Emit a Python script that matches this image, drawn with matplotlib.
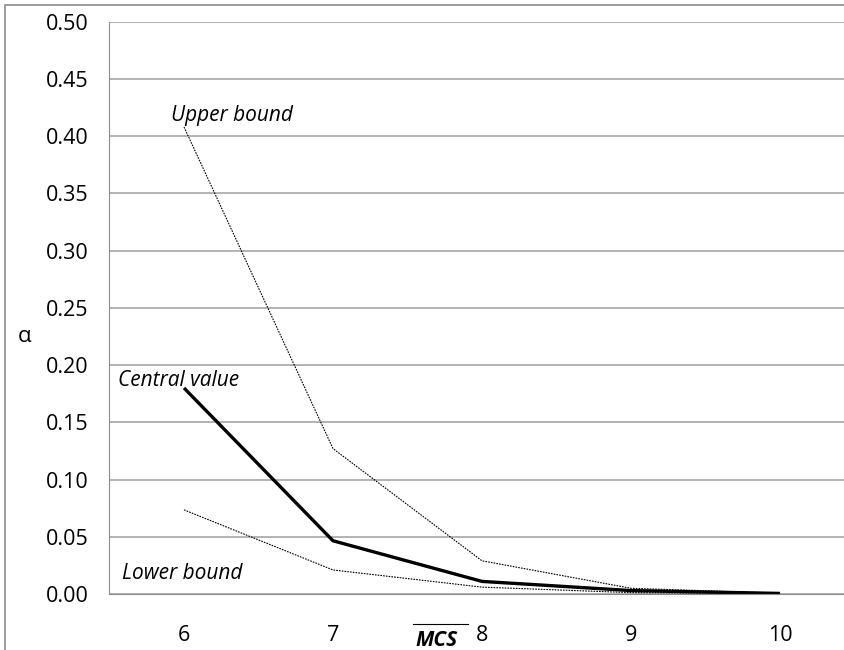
import matplotlib
matplotlib.use("Agg")
import matplotlib.pyplot as plt
from matplotlib.patches import Rectangle
from matplotlib.lines import Line2D

categories = ["6", "7", "8", "9", "10"]
central = [0.180, 0.0465, 0.011, 0.003, 0.0005]
upper = [0.408, 0.127, 0.029, 0.005, 0.0007]
lower = [0.0735, 0.021, 0.006, 0.0012, 0.0002]
yticks = [0.00, 0.05, 0.10, 0.15, 0.20, 0.25, 0.30, 0.35, 0.40, 0.45, 0.50]

W, H = 845, 650
fig = plt.figure(figsize=(W/100, H/100), dpi=100)
plt.rcParams['font.family'] = ["Open Sans", "DejaVu Sans"]

left, right, top, bottom = 109.5, 854.5, 21.7, 594
ax = fig.add_axes([left/W, 1-bottom/H, (right-left)/W, (bottom-top)/H])

x = list(range(len(categories)))
ax.plot(x, upper, color="black", lw=0.8, ls=(0, (1.5, 1)))
ax.plot(x, lower, color="black", lw=0.8, ls=(0, (1.5, 1)))
ax.plot(x, central, color="black", lw=2.4, solid_capstyle="butt")

ax.set_xlim(-0.5, len(categories)-0.5)
ax.set_ylim(0, 0.5)
ax.set_yticks(yticks)
ax.set_yticklabels([f"{v:.2f}" for v in yticks], fontsize=15.5)
ax.set_xticks(x)
ax.set_xticklabels(categories, fontsize=15.5)
ax.tick_params(length=0)
ax.tick_params(axis='y', pad=15)
ax.tick_params(axis='x', pad=22)
ax.yaxis.grid(True, color="#a6a6a6", lw=1.2)
ax.set_axisbelow(True)
for s in ["top", "right"]:
    ax.spines[s].set_visible(False)
ax.spines["left"].set_color("#8c8c8c")
ax.spines["bottom"].set_color("#8c8c8c")

def px2x(p):
    return (p - 184) / 149.0

def py2y(p):
    return (bottom - p) / (bottom - top) * 0.5

ax.text(px2x(171), py2y(121), "Upper bound", style="italic", fontsize=15, ha="left", va="baseline")
ax.text(px2x(118), py2y(386), "Central value", style="italic", fontsize=15, ha="left", va="baseline")
ax.text(px2x(122), py2y(579), "Lower bound", style="italic", fontsize=15, ha="left", va="baseline")

fig.text(25/W, 1-337/H, "α", fontsize=16, ha="center", va="center")
fig.text(437/W, 1-640/H, "MCS", fontsize=15, style="italic", weight="bold", ha="center", va="center")
fig.add_artist(Line2D([413/W, 468/W], [1-624/H, 1-624/H], color="black", lw=0.8))

fig.add_artist(Rectangle((5/W, -0.1), 2, 1-5/H+0.1, transform=fig.transFigure,
                         fill=False, edgecolor="#8c8c8c", lw=1.2))

fig.savefig("out.png", dpi=100)
